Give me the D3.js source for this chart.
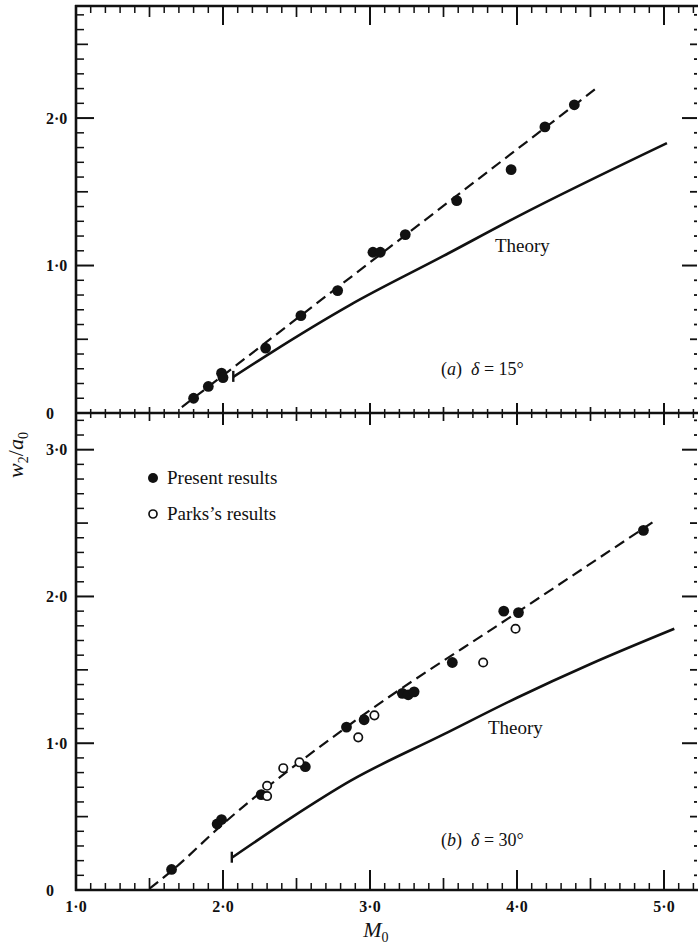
<!DOCTYPE html>
<html>
<head>
<meta charset="utf-8">
<script src="https://cdn.jsdelivr.net/npm/d3@7"></script>
<style>
  body { margin: 0; background: #fff; }
  svg { display: block; }
  text { font-family: "Liberation Serif", "Times New Roman", serif; fill: #111; }
</style>
</head>
<body>
<svg id="chart" width="698" height="951"></svg>
<script>
// (a) delta = 15 deg, present results
const presentA = [
  [1.80, 0.10], [1.90, 0.18], [1.99, 0.27], [2.00, 0.24], [2.29, 0.44],
  [2.53, 0.66], [2.78, 0.83], [3.02, 1.09], [3.07, 1.09], [3.24, 1.21],
  [3.59, 1.44], [3.96, 1.65], [4.19, 1.94], [4.39, 2.09]
]
const fitA = [[1.72, 0.04], [4.55, 2.21]]
const theoryA = [[2.07, 0.245], [2.32, 0.405], [2.86, 0.73], [3.5, 1.065], [4.0, 1.33], [5.02, 1.83]]

// (b) delta = 30 deg
const presentB = [
  [1.65, 0.14], [1.96, 0.45], [1.99, 0.48], [2.26, 0.65], [2.56, 0.84],
  [2.84, 1.11], [2.96, 1.16], [3.22, 1.34], [3.26, 1.33], [3.30, 1.35],
  [3.56, 1.55], [3.91, 1.90], [4.01, 1.89], [4.86, 2.45]
]
const parksB = [
  [2.30, 0.71], [2.30, 0.64], [2.41, 0.83], [2.52, 0.87], [2.92, 1.04],
  [3.03, 1.19], [3.77, 1.55], [3.99, 1.78]
]
const fitB = [[1.50, 0.01], [1.65, 0.13], [2.0, 0.45], [2.84, 1.11], [4.0, 1.89], [4.93, 2.51]]
const theoryB = [[2.06, 0.22], [2.46, 0.49], [2.86, 0.74], [3.5, 1.06], [4.0, 1.31], [4.5, 1.54], [5.07, 1.78]]

const xTicks = [1, 2, 3, 4, 5]
const xTickLabels = ['1·0', '2·0', '3·0', '4·0', '5·0']
const yTicksA = [0, 1, 2]
const yTickLabelsA = ['0', '1·0', '2·0']
const yTicksB = [0, 1, 2, 3]
const yTickLabelsB = ['0', '1·0', '2·0', '3·0']

const svg = d3.select('#chart')
const ink = '#111'

const x = d3.scaleLinear().domain([1, 5]).range([76, 664])
const yA = d3.scaleLinear().domain([0, 2.76]).range([413, 6])
const yB = d3.scaleLinear().domain([0, 3.25]).range([890, 413])
const xLeft = x(1)
const xRight = 697
const yTop = yA(2.76)
const yMid = yA(0)
const yBot = yB(0)

const tenths = (a, b) => d3.range(a, b + 1).map(i => i / 10)
const split = vals => ({
  major: vals.filter(v => Math.abs(v - Math.round(v)) < 1e-6),
  half: vals.filter(v => Math.abs(v * 2 - Math.round(v * 2)) < 1e-6 && Math.abs(v - Math.round(v)) > 1e-6),
  minor: vals.filter(v => Math.abs(v * 2 - Math.round(v * 2)) > 1e-6)
})
const xs = split(tenths(11, 52))
const ysA = split(tenths(1, 27))
const ysB = split(tenths(1, 32))

// panels
const drawPanel = (y, present, parks, fit, theory, fitCurve) => {
  const g = svg.append('g')
  g.append('path').datum(fit)
    .attr('d', d3.line().x(d => x(d[0])).y(d => y(d[1])).curve(fitCurve))
    .attr('fill', 'none').attr('stroke', ink).attr('stroke-width', 2.2)
    .attr('stroke-dasharray', '11,6')
  g.append('path').datum(theory)
    .attr('d', d3.line().x(d => x(d[0])).y(d => y(d[1])).curve(d3.curveMonotoneX))
    .attr('fill', 'none').attr('stroke', ink).attr('stroke-width', 2.6)
  // short bar at the start of the theory curve
  const t0 = theory[0]
  g.append('line')
    .attr('x1', x(t0[0])).attr('x2', x(t0[0]))
    .attr('y1', y(t0[1]) - 6).attr('y2', y(t0[1]) + 5)
    .attr('stroke', ink).attr('stroke-width', 2.4)
  g.selectAll('circle.present').data(present).join('circle')
    .attr('class', 'present')
    .attr('cx', d => x(d[0])).attr('cy', d => y(d[1])).attr('r', 5.4)
    .attr('fill', ink)
  g.selectAll('circle.parks').data(parks).join('circle')
    .attr('class', 'parks')
    .attr('cx', d => x(d[0])).attr('cy', d => y(d[1])).attr('r', 4.2)
    .attr('fill', '#fff').attr('stroke', ink).attr('stroke-width', 1.7)
}

drawPanel(yA, presentA, [], fitA, theoryA, d3.curveLinear)
drawPanel(yB, presentB, parksB, fitB, theoryB, d3.curveMonotoneX)

// tick labels
const labelG = svg.append('g').style('font-size', '16px').style('font-weight', 'bold')
xTicks.forEach((v, i) => {
  labelG.append('text').attr('x', x(v)).attr('y', 912)
    .attr('text-anchor', 'middle').text(xTickLabels[i])
})
yTicksA.forEach((v, i) => {
  labelG.append('text').attr('x', 46).attr('y', yA(v) + 5.5).text(yTickLabelsA[i])
})
yTicksB.forEach((v, i) => {
  labelG.append('text').attr('x', 46).attr('y', yB(v) + 5.5).text(yTickLabelsB[i])
})

// axis titles
const xTitle = svg.append('text').attr('x', x(3.04)).attr('y', 937)
  .attr('text-anchor', 'middle').style('font-size', '22px')
xTitle.append('tspan').style('font-style', 'italic').text('M')
xTitle.append('tspan').attr('dy', 5).style('font-size', '14px').text('0')

const yTitle = svg.append('text')
  .attr('transform', 'translate(23,455) rotate(-90)')
  .attr('text-anchor', 'middle').style('font-size', '22px')
yTitle.append('tspan').style('font-style', 'italic').text('w')
yTitle.append('tspan').attr('dy', 5).style('font-size', '14px').text('2')
yTitle.append('tspan').attr('dy', -5).text('/')
yTitle.append('tspan').style('font-style', 'italic').text('a')
yTitle.append('tspan').attr('dy', 5).style('font-size', '14px').text('0')

// annotations
const note = (px, py, size, parts) => {
  const t = svg.append('text').attr('x', px).attr('y', py).style('font-size', size + 'px')
  parts.forEach(([s, italic]) => t.append('tspan').style('font-style', italic ? 'italic' : 'normal').text(s))
}
note(495, 252, 19, [['Theory', false]])
note(488, 734, 19, [['Theory', false]])
note(441, 375, 18, [['(', false], ['a', true], [')\u2002', false], ['δ', true], [' = 15°', false]])
note(441, 846, 18, [['(', false], ['b', true], [')\u2002', false], ['δ', true], [' = 30°', false]])

// legend
svg.append('circle').attr('cx', 153).attr('cy', 478).attr('r', 5).attr('fill', ink)
svg.append('circle').attr('cx', 153).attr('cy', 514).attr('r', 4).attr('fill', '#fff')
  .attr('stroke', ink).attr('stroke-width', 1.7)
note(167, 484, 19, [['Present results', false]])
note(167, 520, 19, [['Parks’s results', false]])

// tick marks, drawn last; one group per axis line
const tickG = svg.append('g').attr('stroke', ink).attr('fill', 'none')
const xTickMarks = (vals, y0, a, b, w) => {
  tickG.append('g').attr('stroke-width', w)
    .selectAll('line').data(vals).join('line')
    .attr('x1', d => x(d)).attr('x2', d => x(d))
    .attr('y1', y0 + a).attr('y2', y0 + b)
}
const yTickMarks = (y, vals, x0, a, b, w) => {
  tickG.append('g').attr('stroke-width', w)
    .selectAll('line').data(vals).join('line')
    .attr('y1', d => y(d)).attr('y2', d => y(d))
    .attr('x1', x0 + a).attr('x2', x0 + b)
}

// top frame (ticks pointing down)
xTickMarks(xs.minor, yTop, 0, 7, 1.5)
xTickMarks(xs.half, yTop, 0, 11, 1.7)
xTickMarks(xs.major, yTop, 0, 19, 2)
// shared middle axis (ticks crossing)
xTickMarks(xs.minor, yMid, -4, 5, 1.5)
xTickMarks(xs.half, yMid, -6, 8, 1.7)
xTickMarks(xs.major, yMid, -10, 12, 2)
// bottom axis (ticks pointing up)
xTickMarks(xs.minor, yBot, -7, 0, 1.5)
xTickMarks(xs.half, yBot, -12, 0, 1.7)
xTickMarks(xs.major, yBot, -20, 0, 2)

// left and right sides (ticks pointing inward)
const sides = [[yA, ysA, [1, 2]], [yB, ysB, [1, 2, 3]]]
sides.forEach(([y, s, maj]) => {
  yTickMarks(y, s.minor, xLeft, 0, 8, 1.5)
  yTickMarks(y, s.half, xLeft, 0, 12, 1.7)
  yTickMarks(y, maj, xLeft, 0, 18, 2)
  yTickMarks(y, s.minor, xRight, -3, 0, 1.8)
  yTickMarks(y, s.half, xRight, -7, 0, 1.8)
  yTickMarks(y, maj, xRight, -15, 0, 2)
})

// frame lines
const frame = svg.append('g').attr('stroke', ink).attr('stroke-width', 2.6)
frame.append('line').attr('x1', xLeft - 1).attr('x2', 698).attr('y1', yTop).attr('y2', yTop)
frame.append('line').attr('x1', xLeft).attr('x2', 698).attr('y1', yMid).attr('y2', yMid)
frame.append('line').attr('x1', xLeft - 1).attr('x2', 698).attr('y1', yBot).attr('y2', yBot)
frame.append('line').attr('x1', xLeft).attr('x2', xLeft).attr('y1', yTop - 1).attr('y2', yBot + 1)
</script>
</body>
</html>
